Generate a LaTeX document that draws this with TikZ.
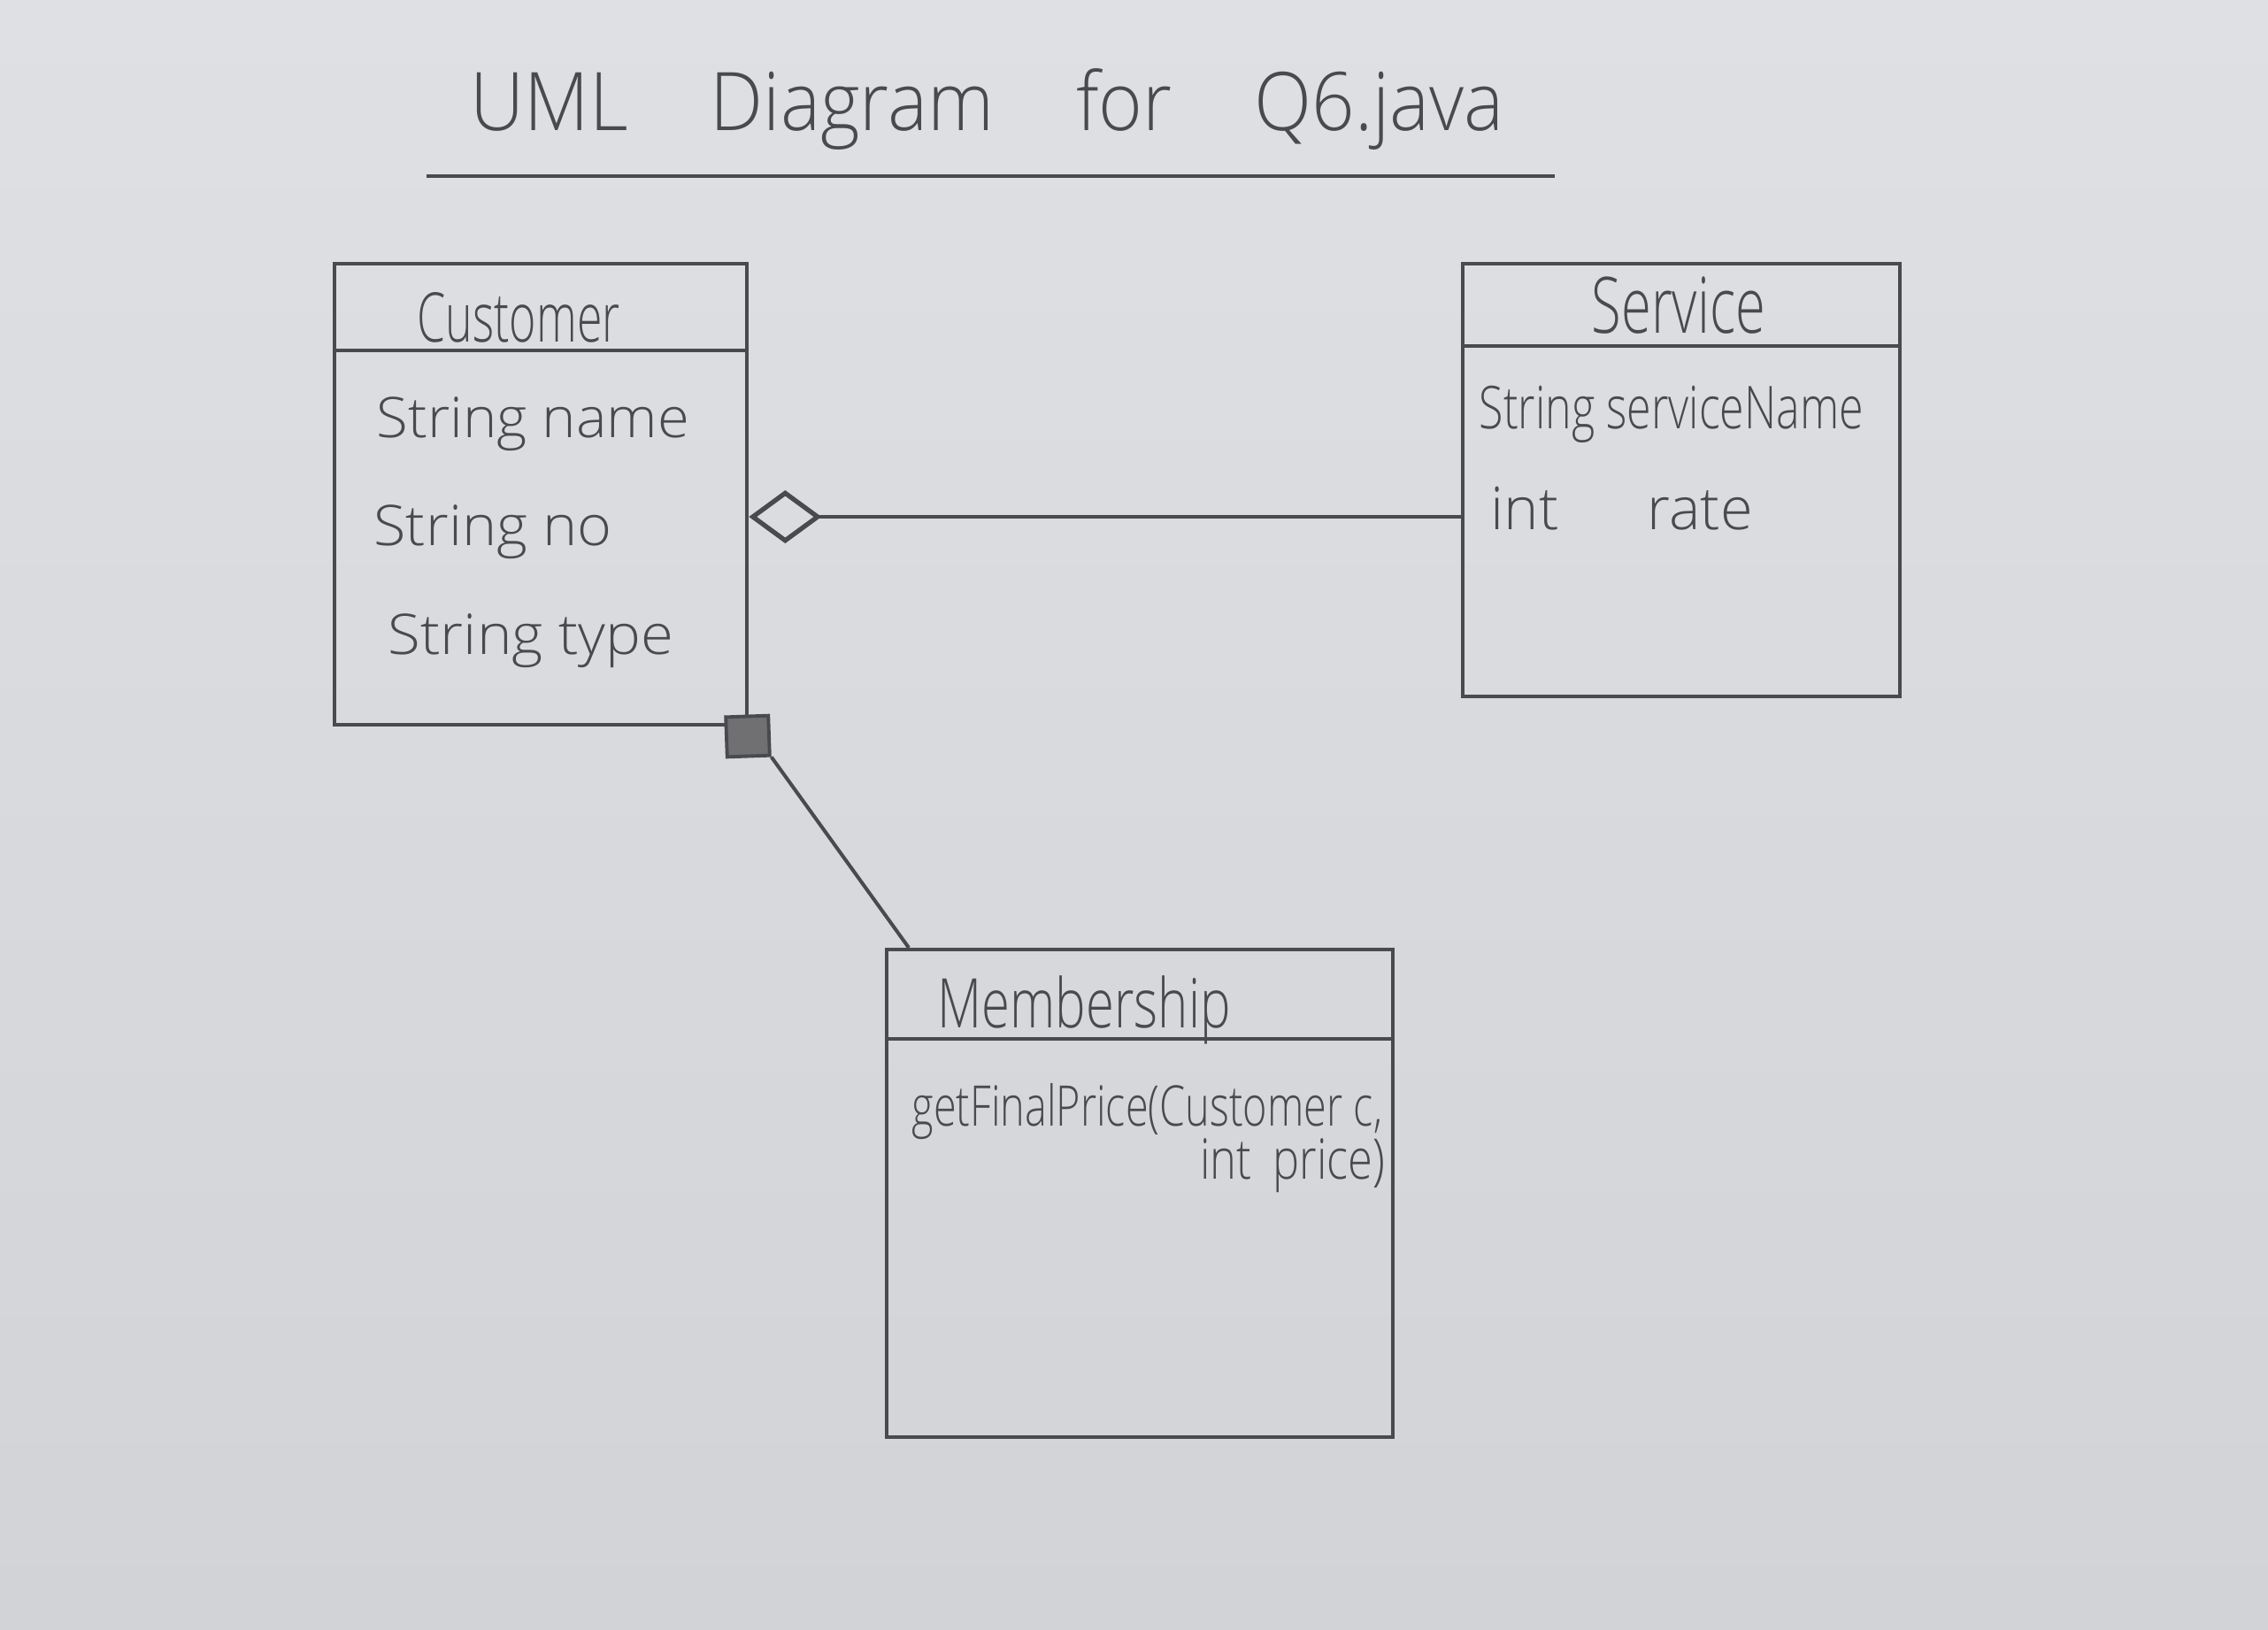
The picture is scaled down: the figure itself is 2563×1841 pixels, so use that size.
\documentclass[tikz,border=0pt]{standalone}
\usepackage{fontspec}
\usepackage{graphicx}
\setmainfont{Open Sans}[UprightFont=* Light]
\usetikzlibrary{arrows.meta,calc}
\definecolor{paper}{RGB}{223,224,228}
\definecolor{paperdark}{RGB}{210,211,215}
\definecolor{pencil}{RGB}{74,74,78}
\definecolor{pencilfill}{RGB}{112,112,115}
% horizontally squeezed handwriting-like text: {x-scale}{size}{text}
\newcommand\hand[3]{\scalebox{#1}[1]{\fontsize{#2}{#2}\selectfont #3}}

\begin{document}
\begin{tikzpicture}[x=0.01cm,y=-0.01cm,
  pen/.style={draw=pencil,line width=1.15pt},
  classbox/.style={pen,rectangle,inner sep=0pt,anchor=north west},
  txt/.style={text=pencil,inner sep=0pt},
]
% paper
\shade[top color=paper,bottom color=paperdark] (0,0) rectangle (2563,1841);
\useasboundingbox (0,0) rectangle (2563,1841);

% title and underline
\node[txt,anchor=base west] (title) at (531,147)
  {\hand{0.93}{26pt}{UML\hspace{1.0cm}Diagram\hspace{1.0cm}for\hspace{1.0cm}Q6.java}};
\draw[pen] (482,199) -- (1757,199);

% class boxes
\node[classbox,minimum width=4.66cm,minimum height=5.21cm] (cust) at (376,296) {};
\node[classbox,minimum width=4.94cm,minimum height=4.89cm] (serv) at (1651,296) {};
\node[classbox,minimum width=5.72cm,minimum height=5.51cm] (memb) at (1000,1071) {};

% compartment lines
\draw[pen] ($(cust.north west)+(0,100)$) -- ($(cust.north east)+(0,100)$);
\draw[pen] ($(serv.north west)+(0,95)$) -- ($(serv.north east)+(0,95)$);
\draw[pen] ($(memb.north west)+(0,103)$) -- ($(memb.north east)+(0,103)$);

% Customer
\node[txt,anchor=base west] (custname) at (471,386) {\hand{0.67}{22pt}{Customer}};
\node[txt,anchor=base west] (custa1) at (425,494) {\hand{1.03}{18pt}{String name}};
\node[txt,anchor=base west] (custa2) at (422,616) {\hand{1.05}{18pt}{String no}};
\node[txt,anchor=base west] (custa3) at (438,739) {\hand{1.06}{18pt}{String type}};

% Service
\node[txt,anchor=base west] (servname) at (1798,376) {\hand{0.70}{25pt}{Service}};
\node[txt,anchor=base west] (serva1) at (1671,484) {\hand{0.75}{19pt}{String serviceName}};
\node[txt,anchor=base west] (serva2) at (1684,598) {\hand{1.0}{19pt}{int\hspace{1.0cm}rate}};

% Membership
\node[txt,anchor=base west] (membname) at (1059,1161) {\hand{0.75}{22pt}{Membership}};
\node[txt,anchor=base west] (membm1) at (1030,1272) {\hand{0.74}{18pt}{getFinalPrice(Customer c,}};
\node[txt,anchor=base east] (membm2) at (1566,1332) {\hand{0.8}{18pt}{int\hspace{0.3cm}price)}};

% aggregation Customer <>-- Service
\coordinate (aggy) at (0,584);
\draw[pen,{Diamond[open,length=0.82cm,width=0.6cm,line width=1.5pt]}-] (cust.east |- aggy) -- (serv.west |- aggy);

% composition Customer <#>-- Membership
\node[draw=pencil,fill=pencilfill,line width=1.1pt,minimum width=0.48cm,minimum height=0.45cm,inner sep=0pt,rotate=2] (comp) at (845,832) {};
\draw[pen] (comp.south east) -- ($(memb.north west)+(27,0)$);
\end{tikzpicture}
\end{document}
